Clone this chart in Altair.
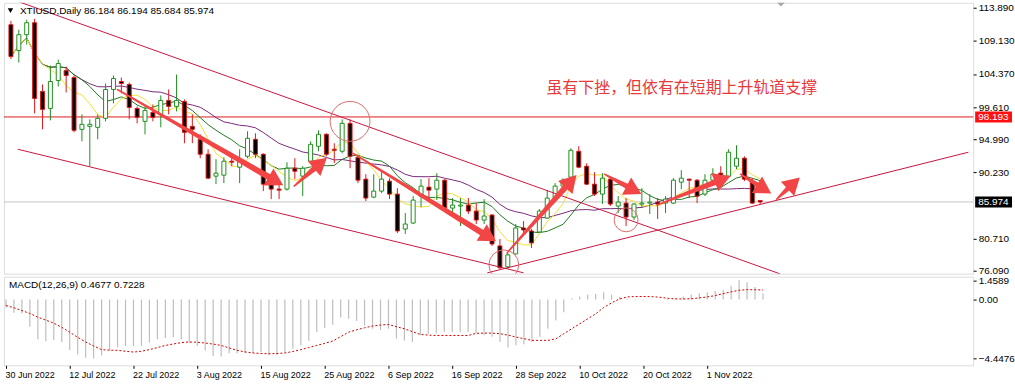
import math
import altair as alt
import pandas as pd

# ---------------- data ----------------
date_labels = ["30 Jun 2022", "12 Jul 2022", "22 Jul 2022", "3 Aug 2022", "15 Aug 2022",
               "25 Aug 2022", "6 Sep 2022", "16 Sep 2022", "28 Sep 2022", "10 Oct 2022",
               "20 Oct 2022", "1 Nov 2022"]

opens = [111.45, 107.73, 110.02, 111.74, 101.86, 99.42, 103.43, 104.86, 103.86, 96.41,
         96.84, 96.70, 97.99, 102.14, 103.29, 102.86, 99.42, 97.56, 98.85, 98.56,
         100.57, 99.71, 100.42, 96.84, 94.98, 92.83, 89.68, 89.82, 91.83, 90.97,
         92.54, 94.98, 92.83, 88.53, 87.82, 87.82, 90.82, 89.68, 91.83, 93.98,
         95.70, 93.55, 93.26, 97.27, 92.40, 89.25, 86.67, 87.53, 88.96, 87.10,
         82.08, 82.94, 86.81, 88.10, 87.82, 89.10, 85.09, 85.38, 85.52, 84.66,
         83.37, 84.09, 79.65, 76.64, 78.50, 82.23, 81.80, 81.66, 83.66, 86.53,
         88.25, 89.54, 93.26, 91.11, 88.53, 87.10, 89.25, 85.38, 85.81, 83.80,
         85.67, 85.81, 85.95, 85.81, 85.81, 88.82, 89.25, 89.10, 87.10, 89.10,
         90.11, 89.68, 91.11, 92.26, 88.96, 86.184]
highs = [112.00, 110.74, 112.17, 112.31, 102.86, 105.58, 106.44, 105.44, 104.15, 98.56,
         97.85, 98.56, 103.00, 104.15, 103.86, 103.14, 99.71, 99.71, 99.99, 101.28,
         102.14, 104.29, 100.71, 98.56, 95.70, 93.55, 92.12, 92.40, 92.40, 93.55,
         96.13, 95.84, 92.97, 89.25, 88.68, 91.68, 92.26, 91.11, 94.69, 96.27,
         95.84, 94.41, 97.85, 97.85, 92.54, 89.96, 89.96, 90.54, 89.39, 87.96,
         84.38, 86.81, 89.25, 89.39, 90.11, 89.25, 86.53, 86.53, 86.53, 85.81,
         86.38, 84.23, 80.65, 78.65, 82.80, 83.23, 82.08, 84.95, 87.67, 88.68,
         89.39, 93.69, 93.98, 91.54, 90.25, 90.11, 89.53, 86.81, 86.53, 85.81,
         87.96, 87.10, 86.53, 86.81, 89.39, 90.54, 89.30, 89.25, 89.96, 90.82,
         91.11, 93.55, 94.12, 92.54, 89.39, 86.194]
lows = [106.50, 106.01, 108.59, 98.70, 96.41, 97.70, 102.57, 101.71, 95.98, 94.69,
        91.11, 94.98, 97.56, 100.14, 101.57, 97.85, 97.27, 95.70, 97.56, 96.70,
        98.56, 98.99, 94.41, 94.41, 92.26, 89.25, 88.53, 88.68, 91.11, 88.68,
        92.26, 92.26, 87.53, 86.38, 86.38, 87.60, 89.25, 86.81, 91.54, 93.26,
        92.54, 91.54, 92.97, 90.82, 88.68, 86.10, 86.50, 87.24, 86.38, 81.51,
        81.37, 82.80, 85.24, 86.24, 86.24, 84.95, 83.95, 82.51, 84.23, 82.80,
        82.80, 79.65, 76.40, 76.40, 78.40, 81.51, 79.36, 81.51, 83.55, 86.10,
        87.96, 89.25, 90.82, 88.40, 86.81, 85.67, 85.38, 84.38, 82.51, 83.37,
        85.09, 84.23, 83.52, 84.38, 85.67, 87.82, 86.53, 85.81, 86.81, 88.25,
        88.53, 89.54, 90.68, 88.96, 85.67, 85.684]
closes = [106.87, 110.02, 111.74, 100.85, 99.28, 103.29, 105.87, 104.15, 96.27, 97.13,
          97.13, 97.99, 102.14, 103.72, 103.00, 99.56, 98.13, 99.13, 98.13, 100.57,
          99.71, 100.57, 95.98, 96.41, 92.83, 89.39, 90.11, 91.83, 91.69, 91.83,
          95.12, 92.83, 88.53, 87.82, 87.67, 90.82, 90.39, 90.82, 94.26, 95.70,
          92.83, 93.40, 97.27, 92.54, 89.10, 86.53, 87.53, 89.25, 87.10, 81.80,
          82.80, 86.24, 88.25, 87.67, 89.10, 85.09, 85.52, 85.52, 84.66, 83.37,
          83.95, 79.93, 76.50, 78.36, 82.23, 81.94, 80.08, 84.66, 86.53, 88.25,
          89.10, 93.40, 90.97, 88.53, 87.10, 89.39, 85.67, 85.95, 83.80, 85.67,
          85.81, 85.95, 85.67, 86.38, 89.10, 89.39, 89.10, 86.81, 89.10, 89.96,
          88.96, 93.12, 92.26, 89.25, 85.81, 85.974]

macd_main = [-0.60, -1.00, -1.05, -2.05, -3.00, -3.15, -3.05, -3.20, -3.80, -4.15,
             -4.40, -4.4476, -4.20, -3.85, -3.60, -3.50, -3.50, -3.50, -3.25, -3.00,
             -2.90, -2.85, -3.00, -3.25, -3.50, -3.85, -4.25, -4.30, -4.05, -4.05,
             -4.05, -4.05, -3.95, -4.20, -4.20, -4.00, -3.70, -3.45, -3.10, -2.45,
             -2.15, -1.90, -1.35, -1.45, -1.60, -1.95, -2.20, -2.30, -2.20, -2.95,
             -3.10, -3.20, -2.70, -2.60, -2.55, -2.45, -2.45, -2.45, -2.45, -2.55,
             -2.70, -2.80, -3.20, -3.60, -3.45, -3.38, -3.21, -2.83, -2.20, -1.58,
             -0.95, 0.10, 0.23, 0.38, 0.43, 0.55, 0.38, 0.20, 0.05, -0.05,
             -0.05, 0.02, 0.02, 0.05, 0.10, 0.23, 0.38, 0.48, 0.55, 0.63,
             0.73, 1.05, 1.4589, 1.30, 0.95, 0.4677]
macd_signal = [-0.45, -0.62, -0.83, -1.05, -1.33, -1.55, -1.78, -2.10, -2.46, -2.85,
               -3.20, -3.50, -3.78, -3.82, -3.83, -3.90, -3.96, -3.90, -3.78, -3.62,
               -3.46, -3.35, -3.25, -3.20, -3.22, -3.28, -3.36, -3.46, -3.65, -3.83,
               -3.95, -4.03, -4.07, -4.09, -4.07, -4.03, -3.92, -3.78, -3.62, -3.46,
               -3.30, -3.13, -2.80, -2.46, -2.28, -2.13, -2.00, -1.92, -1.88, -2.05,
               -2.20, -2.42, -2.63, -2.68, -2.71, -2.71, -2.71, -2.71, -2.71, -2.55,
               -2.53, -2.53, -2.58, -2.68, -2.83, -2.95, -3.08, -3.08, -3.08, -2.96,
               -2.58, -2.20, -1.83, -1.45, -1.08, -0.60, -0.25, 0.05, 0.20, 0.23,
               0.23, 0.22, 0.18, 0.10, 0.05, 0.05, 0.06, 0.13, 0.20, 0.30,
               0.45, 0.58, 0.70, 0.75, 0.74, 0.7228]

price_ticks = [113.890, 109.130, 104.370, 99.610, 94.990, 90.230, 80.710, 76.090]
macd_ticks = [1.4589, 0.0, -4.4476]
level_prices = [98.193, 85.974]

# drawn objects (bar index, price)
line_i1 = [1.0, 0.875, 60.4]
line_p1 = [114.75, 93.55, 75.78]
line_i2 = [97.5, 65.0, 121.4]
line_p2 = [75.64, 75.78, 93.12]

circle_i = [43.0, 62.5, 78.0]
circle_p = [97.56, 76.93, 83.40]

arrow_i1 = [13.5, 35.9, 43.4, 62.9, 75.25, 81.9, 92.5, 97.1]
arrow_p1 = [102.14, 88.25, 92.97, 78.65, 89.96, 85.52, 89.96, 86.38]
arrow_i2 = [33.6, 39.25, 60.6, 71.0, 79.0, 90.25, 95.5, 99.25]
arrow_p2 = [88.96, 91.54, 80.94, 88.96, 87.67, 89.25, 87.82, 88.67]

note_text = "虽有下挫，但依有在短期上升轨道支撑"
note_i = 67.9
note_p = 102.29

# ---------------- layout / styles ----------------
W = 973
H_MAIN = 272
H_MACD = 89
X_DOM = [-0.25, 121.375]
P_DOM = [75.66, 114.61]
M_DOM = [-4.962, 1.729]
PX_I = W / (X_DOM[1] - X_DOM[0])
PX_P = H_MAIN / (P_DOM[1] - P_DOM[0])

GREEN = "#1E8F1E"
RED = "#E01818"
ARROW = "#F24545"
LINE = "#C8163E"
FONT = "Liberation Sans"

xs = alt.Scale(domain=X_DOM, nice=False, zero=False)
ys = alt.Scale(domain=P_DOM, nice=False, zero=False)
ms = alt.Scale(domain=M_DOM, nice=False, zero=False)

y_axis = alt.Axis(orient="right", values=price_ticks, format=".3f", title=None, grid=False,
                  domain=False, tickSize=3, tickColor="black", labelColor="black",
                  labelFont=FONT, labelFontSize=10, labelPadding=2, labelOverlap=False,
                  labelFlush=False)


def X(f):
    return alt.X(f, type="quantitative", scale=xs, axis=None)


def Y(f):
    return alt.Y(f, type="quantitative", scale=ys, axis=y_axis)


N = len(closes)
idx = list(range(N))
candles = pd.DataFrame({"i": idx, "o": opens, "h": highs, "l": lows, "c": closes})
bull = "datum.c >= datum.o"

base = alt.Chart(candles)

wicks = base.mark_rule(strokeWidth=1).encode(
    x=X("i"), y=Y("l"), y2="h",
    color=alt.condition(bull, alt.value(GREEN), alt.value(RED)))
bodies = base.mark_bar(size=4, strokeWidth=1).encode(
    x=X("i"), y=Y("o"), y2="c",
    fill=alt.condition(bull, alt.value("white"), alt.value("black")),
    stroke=alt.condition(bull, alt.value(GREEN), alt.value(RED)))

ma_src = base.transform_window(ma5="mean(c)", frame=[-4, 0], sort=[alt.SortField("i")]) \
    .transform_window(ma10="mean(c)", frame=[-9, 0], sort=[alt.SortField("i")]) \
    .transform_window(ma20="mean(c)", frame=[-19, 0], sort=[alt.SortField("i")])
ma5 = ma_src.mark_line(color="#F2E033", strokeWidth=1).encode(x=X("i"), y=Y("ma5"))
ma10 = ma_src.mark_line(color="#1F7A1F", strokeWidth=1).encode(x=X("i"), y=Y("ma10"))
ma20 = ma_src.mark_line(color="#7A2A7A", strokeWidth=1).encode(x=X("i"), y=Y("ma20"))

lv = pd.DataFrame({"p": level_prices, "kind": ["res", "bid"]})
is_res = "datum.kind == 'res'"
levels = alt.Chart(lv).mark_rule(strokeWidth=1).encode(
    y=Y("p"), color=alt.condition(is_res, alt.value("#E01A1A"), alt.value("#C4C4C4")))
boxes = alt.Chart(lv).transform_calculate(top="datum.p + 5.5/%f" % PX_P, bot="datum.p - 5.5/%f" % PX_P) \
    .mark_rect(clip=False).encode(
    x=alt.value(W + 2), x2=alt.value(W + 39), y=Y("top"), y2="bot",
    fill=alt.condition(is_res, alt.value("#FF1010"), alt.value("#000000")))
box_text = alt.Chart(lv).mark_text(align="left", baseline="middle", color="white", font=FONT,
                                   fontSize=10, clip=False).encode(
    x=alt.value(W + 5), y=Y("p"), text=alt.Text("p:Q", format=".3f"))

lines_df = pd.DataFrame({"i": line_i1 + line_i2, "p": line_p1 + line_p2,
                         "id": list(range(len(line_i1))) * 2})
channel = alt.Chart(lines_df).mark_line(color=LINE, strokeWidth=1, clip=True).encode(
    x=X("i"), y=Y("p"), detail="id:N")

circ_px = [40, 30, 24]
circ_df = pd.DataFrame({"i": circle_i, "p": circle_p, "s": [d * d for d in circ_px]})
circles = alt.Chart(circ_df).mark_point(shape="circle", filled=False, color="#E06A6A",
                                        strokeWidth=1, opacity=1, clip=True).encode(
    x=X("i"), y=Y("p"), size=alt.Size("s:Q", scale=None))

rows = []
heads = []
for k in range(len(arrow_i1)):
    rows.append({"a": k, "k": 0, "i": arrow_i1[k], "p": arrow_p1[k], "w": 1.5})
    rows.append({"a": k, "k": 1, "i": arrow_i2[k], "p": arrow_p2[k], "w": 6.5})
    dx = (arrow_i2[k] - arrow_i1[k]) * PX_I
    dy = -(arrow_p2[k] - arrow_p1[k]) * PX_P
    ang = math.degrees(math.atan2(dx, -dy)) % 360
    heads.append({"i": arrow_i2[k], "p": arrow_p2[k], "ang": ang})
arrow_df = pd.DataFrame(rows)
head_df = pd.DataFrame(heads)
shafts = alt.Chart(arrow_df).mark_trail(color=ARROW, clip=True).encode(
    x=X("i"), y=Y("p"), size=alt.Size("w:Q", scale=None), detail="a:N", order="k:Q")
arrowheads = alt.Chart(head_df).mark_point(shape="triangle-up", filled=True, color=ARROW,
                                           size=380, opacity=1, clip=True).encode(
    x=X("i"), y=Y("p"), angle=alt.Angle("ang:Q", scale=None))

note = alt.Chart(pd.DataFrame({"i": [note_i], "p": [note_p], "t": [note_text]})).mark_text(
    align="left", baseline="middle", fontSize=16, font="Noto Sans CJK SC", color="#E8393B").encode(
    x=X("i"), y=Y("p"), text="t:N")

hdr = "XTIUSD,Daily  %.3f %.3f %.3f %.3f" % (opens[-1], highs[-1], lows[-1], closes[-1])
header = alt.Chart(pd.DataFrame({"t": [hdr]})).mark_text(
    align="left", baseline="middle", fontSize=10, font=FONT, color="black").encode(
    x=alt.value(16), y=alt.value(8), text="t:N")
hdr_tri = alt.Chart(pd.DataFrame({"t": [0]})).mark_point(
    shape="triangle-down", filled=True, color="black", size=30, opacity=1).encode(
    x=alt.value(6.5), y=alt.value(8))
shift_mark = alt.Chart(pd.DataFrame({"t": [0]})).mark_point(
    shape="diamond", filled=True, color="#A8A8A8", size=60, opacity=1, clip=True).encode(
    x=alt.value(780), y=alt.value(0))

main = alt.layer(levels, ma20, ma10, ma5, wicks, bodies, channel, circles, shafts, arrowheads,
                 note, header, hdr_tri, shift_mark, boxes, box_text).properties(width=W, height=H_MAIN)

# ---------------- MACD panel ----------------
macd_df = pd.DataFrame({"i": idx, "m": macd_main, "s": macd_signal})
label_list = "[" + ",".join("'%s'" % s for s in date_labels) + "]"
x_axis = alt.Axis(values=[8 * k for k in range(len(date_labels))],
                  labelExpr=label_list + "[round(datum.value/8)]", orient="bottom", title=None,
                  grid=False, domain=False, tickSize=3, tickColor="black", labelColor="black",
                  labelAlign="left", labelFont=FONT, labelFontSize=9, labelPadding=2,
                  labelOverlap=False, labelFlush=False, labelOffset=-1)
m_axis = alt.Axis(orient="right", values=macd_ticks,
                  labelExpr="datum.value == 0 ? '0.00' : format(datum.value, '.4f')",
                  title=None, grid=False, domain=False, tickSize=3, tickColor="black",
                  labelColor="black", labelFont=FONT, labelFontSize=10, labelPadding=2,
                  labelOverlap=False, labelFlush=False)

mb = alt.Chart(macd_df)
hist = mb.transform_calculate(z="0").mark_rule(color="#BEBEBE", strokeWidth=1.2).encode(
    x=alt.X("i:Q", scale=xs, axis=x_axis), y=alt.Y("z:Q", scale=ms, axis=m_axis), y2="m")
sig = mb.mark_line(color="#D00000", strokeWidth=1, strokeDash=[2, 2]).encode(
    x=alt.X("i:Q", scale=xs, axis=x_axis), y=alt.Y("s:Q", scale=ms, axis=m_axis))
mtxt = "MACD(12,26,9) %.4f %.4f" % (macd_main[-1], macd_signal[-1])
macd_label = alt.Chart(pd.DataFrame({"t": [mtxt]})).mark_text(
    align="left", baseline="middle", fontSize=10, font=FONT, color="black").encode(
    x=alt.value(5), y=alt.value(8), text="t:N")
macd = alt.layer(hist, sig, macd_label).properties(width=W, height=H_MACD)

chart = alt.vconcat(main, macd, spacing=3, bounds="flush").properties(
    padding={"left": 3, "top": 1, "right": 0, "bottom": 5}
).configure_view(stroke="black", strokeWidth=1).configure(background="white")

chart.save("out.html", embed_options={"renderer": "svg", "actions": False})
